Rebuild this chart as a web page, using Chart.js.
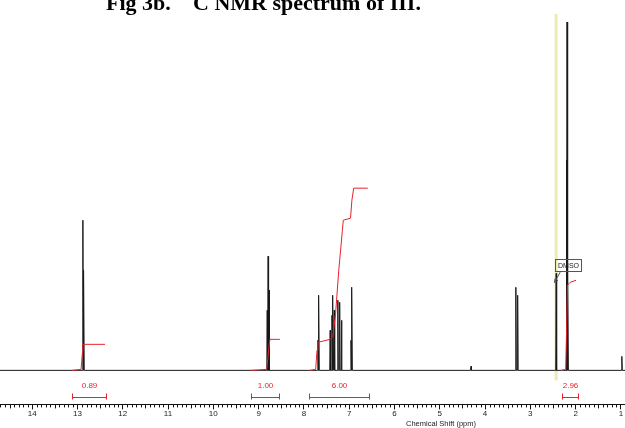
<!DOCTYPE html>
<html>
<head>
<meta charset="utf-8">
<script src="https://cdn.jsdelivr.net/npm/chart.js@4.4.0/dist/chart.umd.min.js"></script>
<style>
  html, body { margin: 0; padding: 0; background: #fff; }
  #wrap { width: 625px; height: 428px; }
</style>
</head>
<body>
<div id="wrap"><canvas id="nmr"></canvas></div>
<script>
/* ==========================================
   Spettro NMR di III: picchi + integrali
   ========================================== */

// ── Picchi (ppm, intensità relativa) ────────
const peakShift  = [12.88, 12.86, 8.81, 8.79, 8.77, 7.69, 7.67, 7.42, 7.38, 7.36, 7.33, 7.25, 7.21, 7.17, 6.96, 6.94, 4.31, 3.32, 3.28, 2.43, 2.20, 2.19, 2.17, 0.98];
const peakHeight = [150,   100,   60,   114,  80,   30,   75,   40,   55,   75,   60,   70,   68,   50,   30,   83,   4,    83,   75,   97,   210,  348,  100,  14];

// ── Curve d'integrazione ────────────────────
const intA_ppm = [13.12, 12.92, 12.89, 12.88, 12.39];
const intA_val = [0, 1, 18, 26, 26];
const intB_ppm = [9.17, 8.82, 8.78, 8.75, 8.53];
const intB_val = [0, 1, 20, 31, 31];
const intC_ppm = [7.87, 7.74, 7.71, 7.69, 7.42, 7.36, 7.30, 7.23, 7.15, 7.13, 6.97, 6.94, 6.90, 6.59];
const intC_val = [0, 1, 20, 28, 31, 34, 57, 100, 140, 150, 152, 170, 182, 182];
const intD_ppm = [2.32, 2.22, 2.20, 2.18, 2.12, 1.99];
const intD_val = [0, 1, 40, 85, 88, 90];

// ── Intervalli e valori integrati ───────────
const rangeFrom  = [13.12, 9.17, 7.89, 2.30];
const rangeTo    = [12.37, 8.56, 6.57, 1.95];
const rangeLabel = ['0.89', '1.00', '6.00', '2.96'];

// ── Solvente ────────────────────────────────
const solventShift = 2.43;
const solventPeak  = 97;
const solventLabel = 'DMSO';

// ── Assi e titolo ───────────────────────────
const ppmMin = 0.91;
const ppmMax = 14.71;
const axisTitle = 'Chemical Shift (ppm)';
const titleParts = ['Fig 3b.', '13', 'C NMR spectrum of III.'];

const RED = '#e8232b';
const SERIF = '"Liberation Serif", "Times New Roman", serif';
const SANS = 'Arial, "Liberation Sans", sans-serif';

// Costruisce la traccia: ogni picco come riga sottile sulla linea di base
function buildSpectrum() {
  const pts = [{ x: ppmMax, y: 0 }];
  const w = 0.01;
  peakShift.forEach((p, i) => {
    pts.push({ x: p + w, y: 0 }, { x: p, y: peakHeight[i] }, { x: p - w, y: 0 });
  });
  pts.push({ x: ppmMin, y: 0 });
  return pts;
}

const toPts = (xs, ys) => xs.map((v, i) => ({ x: v, y: ys[i] }));

function integralSet(xs, ys) {
  return {
    data: toPts(xs, ys),
    borderColor: RED,
    borderWidth: 1,
    pointRadius: 0,
    tension: 0,
    fill: false,
    order: 1
  };
}

// Decorazioni: banda solvente, tacche minori, parentesi integrali, etichette
const nmrDecor = {
  id: 'nmrDecor',
  beforeDatasetsDraw(chart) {
    const { ctx, chartArea, scales: { x, y } } = chart;
    const px = x.getPixelForValue(solventShift);
    ctx.save();
    ctx.fillStyle = 'rgba(236, 232, 170, 0.9)';
    ctx.fillRect(px - 1.5, chartArea.top, 3, y.getPixelForValue(-10) - chartArea.top);
    ctx.restore();
  },
  afterDatasetsDraw(chart) {
    const { ctx, chartArea, scales: { x, y } } = chart;
    const axisY = chartArea.bottom;
    const base = y.getPixelForValue(0);
    ctx.save();

    // tacche minori ogni 0.1 ppm
    ctx.strokeStyle = '#111';
    ctx.lineWidth = 1;
    ctx.beginPath();
    for (let i = 10; i <= 147; i++) {
      if (i % 10 === 0) continue;
      const xp = Math.round(x.getPixelForValue(i / 10)) + 0.5;
      const len = i % 5 === 0 ? 4 : 3;
      ctx.moveTo(xp, axisY);
      ctx.lineTo(xp, axisY + len);
    }
    ctx.stroke();

    // parentesi degli integrali
    ctx.strokeStyle = RED;
    ctx.fillStyle = RED;
    ctx.font = `8px ${SANS}`;
    ctx.textAlign = 'center';
    ctx.textBaseline = 'middle';
    const by = Math.round(base + 27) + 0.5;
    rangeFrom.forEach((f, i) => {
      const x1 = Math.round(x.getPixelForValue(f)) + 0.5;
      const x2 = Math.round(x.getPixelForValue(rangeTo[i])) + 0.5;
      ctx.beginPath();
      ctx.moveTo(x1, by - 4); ctx.lineTo(x1, by + 2);
      ctx.moveTo(x1, by); ctx.lineTo(x2, by);
      ctx.moveTo(x2, by - 4); ctx.lineTo(x2, by + 2);
      ctx.stroke();
      ctx.fillText(rangeLabel[i], (x1 + x2) / 2, base + 15);
    });

    // etichetta del solvente
    const sx = x.getPixelForValue(solventShift);
    const top = y.getPixelForValue(solventPeak);
    const bx = Math.round(sx) - 0.5, bw = 26, bh = 12;
    const byTop = Math.round(top - 14) + 0.5;
    ctx.strokeStyle = '#555';
    ctx.strokeRect(bx, byTop, bw, bh);
    ctx.fillStyle = '#222';
    ctx.font = `7px ${SANS}`;
    ctx.fillText(solventLabel, bx + bw / 2, byTop + bh / 2 + 0.5);
    const ax0 = bx + 5, ay0 = byTop + bh, ax1 = bx - 1, ay1 = byTop + bh + 11;
    ctx.beginPath();
    ctx.moveTo(ax0, ay0); ctx.lineTo(ax1, ay1);
    ctx.moveTo(ax1, ay1); ctx.lineTo(ax1 + 0.5, ay1 - 4);
    ctx.moveTo(ax1, ay1); ctx.lineTo(ax1 + 3.5, ay1 - 2);
    ctx.stroke();

    // titolo asse
    ctx.fillStyle = '#222';
    ctx.font = `7.5px ${SANS}`;
    ctx.fillText(axisTitle, 441, 424);

    // titolo della figura (tagliato in alto come nell'originale)
    ctx.fillStyle = '#000';
    ctx.textAlign = 'left';
    ctx.textBaseline = 'alphabetic';
    ctx.font = `bold 22px ${SERIF}`;
    ctx.fillText(titleParts[0], 106, 10);
    ctx.font = `bold 13px ${SERIF}`;
    ctx.fillText(titleParts[1], 177, -2);
    ctx.font = `bold 22px ${SERIF}`;
    ctx.fillText(titleParts[2], 193, 10);
    ctx.restore();
  }
};

new Chart(document.getElementById('nmr'), {
  type: 'line',
  data: {
    datasets: [
      {
        data: buildSpectrum(),
        borderColor: '#1a1a1a',
        borderWidth: 1,
        pointRadius: 0,
        tension: 0,
        fill: false,
        order: 2
      },
      integralSet(intA_ppm, intA_val),
      integralSet(intB_ppm, intB_val),
      integralSet(intC_ppm, intC_val),
      integralSet(intD_ppm, intD_val)
    ]
  },
  options: {
    responsive: true,
    maintainAspectRatio: false,
    animation: false,
    layout: { padding: { left: 0, right: 0, top: 14, bottom: 9 } },
    plugins: {
      legend: { display: false },
      tooltip: { enabled: false }
    },
    scales: {
      x: {
        type: 'linear',
        reverse: true,
        min: ppmMin,
        max: ppmMax,
        border: { display: true, color: '#111', width: 1 },
        grid: { drawOnChartArea: false, drawTicks: true, tickLength: 5, color: '#111' },
        ticks: {
          stepSize: 1,
          includeBounds: false,
          padding: 0,
          maxRotation: 0,
          autoSkip: false,
          color: '#222',
          font: { family: SANS, size: 8 }
        }
      },
      y: {
        display: false,
        min: -34,
        max: 356
      }
    }
  },
  plugins: [nmrDecor]
});
</script>
</body>
</html>
